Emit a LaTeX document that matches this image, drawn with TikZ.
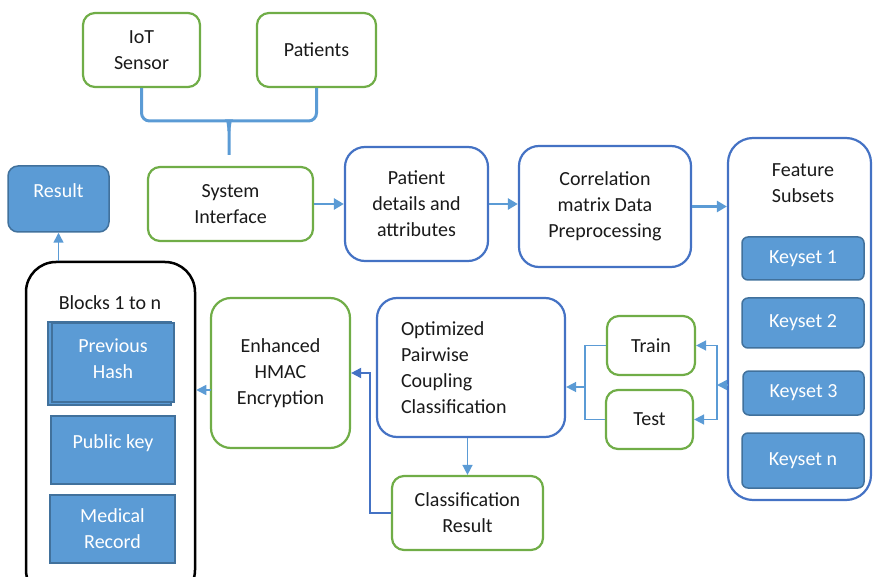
\documentclass[tikz,border=0pt]{standalone}
\usepackage{fontspec}
\setmainfont{Carlito}
\usetikzlibrary{arrows.meta,calc}
\definecolor{leaf}{HTML}{70AD47}
\definecolor{ocean}{HTML}{4472C4}
\definecolor{sky}{HTML}{5B9BD5}
\definecolor{navy}{HTML}{41719C}
\definecolor{ink}{HTML}{1A1A1A}

\begin{document}
\begin{tikzpicture}[x=1pt,y=-1pt,
  base/.style={font=\fontsize{20pt}{26pt}\selectfont, text=ink, align=center, inner sep=0pt},
  greenbox/.style={base, draw=leaf, line width=2.2pt, rounded corners=12pt, fill=white},
  bluebox/.style={base, draw=ocean, line width=2.2pt, rounded corners=20pt, fill=white},
  keybox/.style={base, text=white, fill=sky, draw=navy, line width=1.5pt, rounded corners=6pt},
  cellbox/.style={base, text=white, fill=sky, draw=navy, line width=1.5pt},
  lbl/.style={base},
  wlbl/.style={base, text=white},
  flow/.style={draw=sky, line width=2.8pt, -{Triangle[length=10pt,width=11pt]}},
  slimflow/.style={draw=sky, line width=1.5pt, -{Triangle[length=10pt,width=10pt]}},
  darkflow/.style={draw=ocean, line width=2pt, -{Triangle[length=10pt,width=10pt]}},
  brace/.style={draw=sky, line width=3pt},
]
\useasboundingbox (0,0) rectangle (873,577);

% sources feeding the system interface
\node[greenbox, minimum width=117pt, minimum height=74pt] (iot) at (141.5,50) {IoT\\Sensor};
\node[greenbox, minimum width=119pt, minimum height=74pt] (pat) at (316.5,50) {Patients};
\node[greenbox, minimum width=165pt, minimum height=74pt] (sys) at (230.5,204) {System\\Interface};
\coordinate (stem) at (229,155);
\draw[brace] (iot.south) [rounded corners=8pt] |- (221,121) [sharp corners]
  .. controls (227,121) and (229,125) .. (229,131) -- (stem);
\draw[brace] (pat.south) [rounded corners=8pt] |- (237,121) [sharp corners]
  .. controls (231,121) and (229,125) .. (229,131);

% top processing row
\node[bluebox, minimum width=143pt, minimum height=114pt] (pd) at (416.5,204) {Patient\\details and\\attributes};
\node[bluebox, minimum width=172pt, minimum height=121pt] (corr) at (605,206.5) {Correlation\\matrix Data\\Preprocessing};

% feature subsets column
\node[base, draw=ocean, line width=2.2pt, rounded corners=25pt, minimum width=143pt, minimum height=362pt] (feat) at (799.5,319) {};
\node[lbl] (fstxt) at (803,183) {Feature\\Subsets};
\node[keybox, minimum width=122pt, minimum height=43pt] (k1) at (803,258.5) {Keyset 1};
\node[keybox, minimum width=122pt, minimum height=50pt] (k2) at (803,323) {Keyset 2};
\node[keybox, minimum width=121pt, minimum height=44pt] (k3) at (803.5,393) {Keyset 3};
\node[keybox, minimum width=122pt, minimum height=55pt] (kn) at (803,460.5) {Keyset n};

\draw[flow] (sys.east) -- (pd.west |- sys.east);
\draw[flow] (pd.east) -- (corr.west |- pd.east);
\draw[flow] (corr.east) -- (feat.west |- corr.east);

% train / test split
\node[greenbox, minimum width=88pt, minimum height=59pt] (train) at (651,345.5) {Train};
\node[greenbox, minimum width=87pt, minimum height=59pt] (test) at (649.5,419.5) {Test};
\coordinate (jr) at (717,385);
\coordinate (jl) at (585,387);
\draw[slimflow] (feat.west |- jr) -- (jr);
\draw[draw=sky, line width=1.5pt] (jr |- train.east) -- (jr |- test.east);
\draw[slimflow] (jr |- train.east) -- (train.east);
\draw[slimflow] (jr |- test.east) -- (test.east);
\draw[draw=sky, line width=1.5pt] (train.west) -| (jl) |- (test.west);

% classification and encryption
\node[bluebox, minimum width=188pt, minimum height=139pt, text width=140pt, align=left] (opt) at (471,367.5)
  {Optimized\\Pairwise\\Coupling\\Classification};
\draw[slimflow] (jl) -- (opt.east |- jl);
\node[greenbox, minimum width=151pt, minimum height=74pt] (cres) at (467.5,513) {Classification\\Result};
\draw[slimflow] (opt.south -| cres.north) -- (cres.north);
\node[greenbox, rounded corners=20pt, minimum width=139pt, minimum height=150pt] (hmac) at (280.5,373) {Enhanced\\HMAC\\Encryption};
\draw[darkflow] (cres.west) -- ++(-21,0) |- (hmac.east);

% block chain storage
\node[base, draw=black, line width=2.5pt, rounded corners=30pt, minimum width=169pt, minimum height=338pt] (blocks) at (110.5,431) {};
\node[lbl] (blktxt) at (110,303) {Blocks 1 to n};
\coordinate (hm) at (211,390);
\draw[slimflow] (hm) -- (blocks.east |- hm);
\node[cellbox, minimum width=123pt, minimum height=83pt] (prevback) at (109.5,363.5) {};
\node[cellbox, minimum width=122pt, minimum height=79pt] (prev) at (113,362.5) {};
\node[wlbl] (prevtxt) at (113,358.5) {Previous\\Hash};
\node[cellbox, minimum width=124pt, minimum height=68pt] (pub) at (113,450) {};
\node[wlbl] (pubtxt) at (113,443) {Public key};
\node[cellbox, minimum width=125pt, minimum height=68pt] (med) at (112.5,529) {Medical\\Record};

% final result
\node[keybox, rounded corners=10pt, minimum width=101pt, minimum height=66pt] (res) at (58.5,199) {};
\node[wlbl] (restxt) at (58.5,191) {Result};
\draw[slimflow] (blocks.north -| res.south) -- (res.south);
\end{tikzpicture}
\end{document}
